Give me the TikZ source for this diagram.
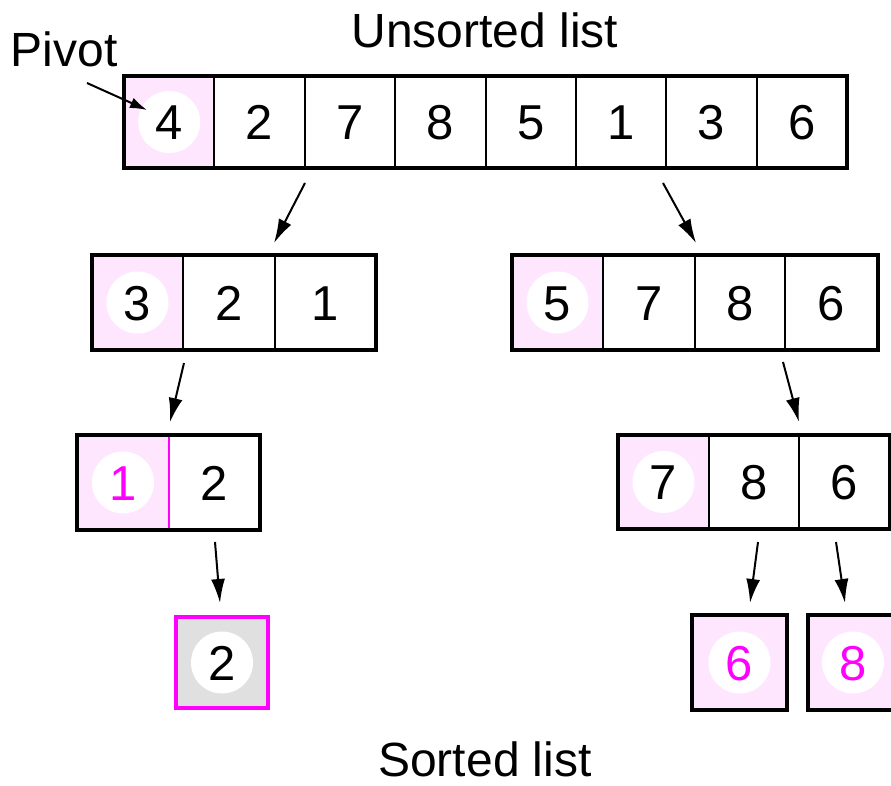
\documentclass[tikz,border=0pt]{standalone}
\usepackage{fontspec}
\setmainfont{Liberation Sans}
\usetikzlibrary{arrows.meta}
\definecolor{pinkbg}{RGB}{255,230,255}
\definecolor{mag}{RGB}{255,0,255}
\definecolor{graybg}{RGB}{224,224,224}
\newcommand\mkcell[6]{%
  \node[inner sep=0pt,outer sep=0pt,fill=#6,minimum width={(#3-#2)*1bp},minimum height={(#5-#4)*1bp},anchor=north west] (#1) at (#2,#4) {};}
\begin{document}
\begin{tikzpicture}[x=1bp,y=-1bp,
  digit/.style={inner sep=0pt,text height=35bp,text depth=0pt,font=\fontsize{49bp}{49bp}\selectfont},
  pivotdot/.style={digit,circle,fill=white,minimum size=62bp},
  divider/.style={line width=2bp},
  outerbox/.style={line width=4.5bp},
  flow/.style={line width=2bp,-{Latex[length=24bp,width=14bp]}},
  label/.style={font=\fontsize{48bp}{48bp}\selectfont,inner sep=0pt,anchor=base}]
\useasboundingbox (0,0) rectangle (891,786);
\clip (0,0) rectangle (891,786);
% titles
\node[label] (title) at (485,48) {Unsorted list};
\node[label] (pivotlbl) at (64,67) {Pivot};
\node[label] (sorted) at (485,776) {Sorted list};
% ---------- row 1
\mkcell{a1}{124}{214.4}{76}{168}{pinkbg}
\mkcell{a2}{214.4}{304.8}{76}{168}{white}
\mkcell{a3}{304.8}{395.1}{76}{168}{white}
\mkcell{a4}{395.1}{485.5}{76}{168}{white}
\mkcell{a5}{485.5}{575.9}{76}{168}{white}
\mkcell{a6}{575.9}{666.3}{76}{168}{white}
\mkcell{a7}{666.3}{756.6}{76}{168}{white}
\mkcell{a8}{756.6}{847}{76}{168}{white}
\node[pivotdot] (da1) at (a1) {4};
\node[digit] (da2) at (a2) {2};
\node[digit] (da3) at (a3) {7};
\node[digit] (da4) at (a4) {8};
\node[digit] (da5) at (a5) {5};
\node[digit] (da6) at (a6) {1};
\node[digit] (da7) at (a7) {3};
\node[digit] (da8) at (a8) {6};
\foreach \c in {a1,a2,a3,a4,a5,a6,a7} \draw[divider] (\c.north east) -- (\c.south east);
\draw[outerbox] (a1.north west) rectangle (a8.south east);
% ---------- row 2 left
\mkcell{b1}{92}{183}{255}{350}{pinkbg}
\mkcell{b2}{183}{275}{255}{350}{white}
\mkcell{b3}{275}{376}{255}{350}{white}
\node[pivotdot] (db1) at (b1) {3};
\node[digit] (db2) at (b2) {2};
\node[digit] (db3) at (b3) {1};
\foreach \c in {b1,b2} \draw[divider] (\c.north east) -- (\c.south east);
\draw[outerbox] (b1.north west) rectangle (b3.south east);
% ---------- row 2 right
\mkcell{c1}{512}{603}{255}{350}{pinkbg}
\mkcell{c2}{603}{695}{255}{350}{white}
\mkcell{c3}{695}{785}{255}{350}{white}
\mkcell{c4}{785}{878}{255}{350}{white}
\node[pivotdot] (dc1) at (c1) {5};
\node[digit] (dc2) at (c2) {7};
\node[digit] (dc3) at (c3) {8};
\node[digit] (dc4) at (c4) {6};
\foreach \c in {c1,c2,c3} \draw[divider] (\c.north east) -- (\c.south east);
\draw[outerbox] (c1.north west) rectangle (c4.south east);
% ---------- row 3 left
\mkcell{e1}{77}{169}{435}{530}{pinkbg}
\mkcell{e2}{169}{260}{435}{530}{white}
\node[pivotdot,text=mag] (de1) at (e1) {1};
\node[digit] (de2) at (e2) {2};
\draw[divider,draw=mag] (e1.north east) -- (e1.south east);
\draw[outerbox] (e1.north west) rectangle (e2.south east);
% ---------- row 3 right
\mkcell{f1}{618}{709}{435}{529}{pinkbg}
\mkcell{f2}{709}{799}{435}{529}{white}
\mkcell{f3}{799}{890}{435}{529}{white}
\node[pivotdot] (df1) at (f1) {7};
\node[digit] (df2) at (f2) {8};
\node[digit] (df3) at (f3) {6};
\foreach \c in {f1,f2} \draw[divider] (\c.north east) -- (\c.south east);
\draw[outerbox] (f1.north west) rectangle (f3.south east);
% ---------- row 4
\mkcell{g1}{176}{268}{617}{708}{graybg}
\node[pivotdot] (dg1) at (g1) {2};
\draw[outerbox,draw=mag] (g1.north west) rectangle (g1.south east);
\mkcell{h1}{692}{787}{615}{710}{pinkbg}
\node[pivotdot,text=mag] (dh1) at (h1) {6};
\draw[outerbox] (h1.north west) rectangle (h1.south east);
\mkcell{h2}{808}{898}{615}{710}{pinkbg}
\node[pivotdot,text=mag] (dh2) at (h2) {8};
\draw[outerbox] (h2.north west) rectangle (h2.south east);
% ---------- arrows
\coordinate (p0) at (87,83);  \coordinate (p1) at (147,110);
\draw[line width=2bp,-{Latex[length=17bp,width=11bp]}] (p0) -- (p1);
\coordinate (s1) at (305,183); \coordinate (t1) at (274,243);
\coordinate (s2) at (663,183); \coordinate (t2) at (696,243);
\coordinate (s3) at (184,363); \coordinate (t3) at (170,422);
\coordinate (s4) at (783,362); \coordinate (t4) at (799,422);
\coordinate (s5) at (215,542); \coordinate (t5) at (220,603);
\coordinate (s6) at (758,542); \coordinate (t6) at (750,603);
\coordinate (s7) at (836,542); \coordinate (t7) at (845,603);
\foreach \i in {1,...,7} \draw[flow] (s\i) -- (t\i);
\end{tikzpicture}
\end{document}
